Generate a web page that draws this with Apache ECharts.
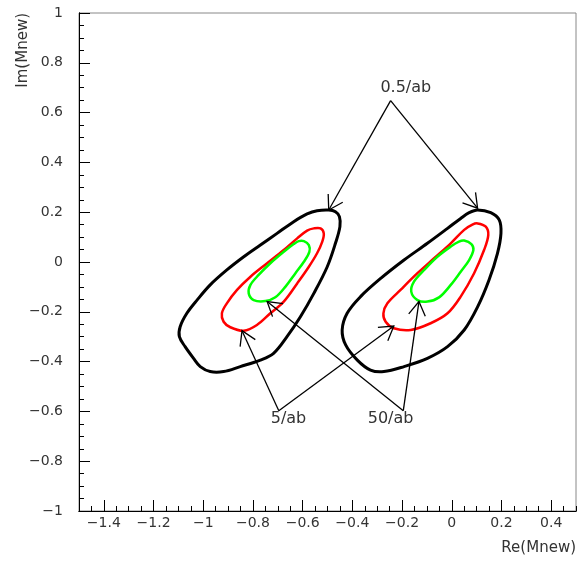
<!DOCTYPE html>
<html>
<head>
<meta charset="utf-8">
<script src="https://cdn.jsdelivr.net/npm/echarts@6/dist/echarts.min.js"></script>
<style>html,body{margin:0;padding:0;background:#fff}#c{width:579px;height:561px}</style>
</head>
<body>
<div id="c"></div>
<script>
// ---- tick labels ----
const xTickLabels = [-1.4, -1.2, -1, -0.8, -0.6, -0.4, -0.2, 0, 0.2, 0.4];
const yTickLabels = [-1, -0.8, -0.6, -0.4, -0.2, 0, 0.2, 0.4, 0.6, 0.8, 1];
const xRange = [-1.5, 0.5];
const yRange = [-1, 1];
const minorStep = 0.05;

// ---- contours (Re, Im) ----
const blackLeft = [[-0.495,0.209],[-0.542,0.206],[-0.582,0.193],[-0.636,0.162],[-0.703,0.115],[-0.770,0.068],[-0.837,0.021],[-0.905,-0.032],[-0.972,-0.092],[-1.025,-0.153],[-1.066,-0.206],[-1.093,-0.260],[-1.096,-0.300],[-1.073,-0.340],[-1.039,-0.387],[-1.012,-0.420],[-0.972,-0.440],[-0.918,-0.440],[-0.851,-0.420],[-0.770,-0.394],[-0.717,-0.367],[-0.663,-0.300],[-0.609,-0.220],[-0.555,-0.126],[-0.501,-0.019],[-0.468,0.075],[-0.450,0.142],[-0.452,0.182],[-0.468,0.202]];
const redLeft = [[-0.528,0.135],[-0.515,0.115],[-0.521,0.082],[-0.542,0.035],[-0.575,-0.019],[-0.622,-0.086],[-0.676,-0.159],[-0.730,-0.206],[-0.784,-0.253],[-0.837,-0.276],[-0.891,-0.262],[-0.918,-0.240],[-0.925,-0.206],[-0.905,-0.166],[-0.864,-0.112],[-0.810,-0.059],[-0.743,-0.005],[-0.676,0.048],[-0.622,0.095],[-0.582,0.126],[-0.555,0.135]];
const greenLeft = [[-0.595,0.084],[-0.575,0.068],[-0.573,0.041],[-0.595,0.001],[-0.629,-0.045],[-0.669,-0.099],[-0.710,-0.142],[-0.750,-0.157],[-0.797,-0.153],[-0.817,-0.126],[-0.810,-0.092],[-0.777,-0.052],[-0.730,-0.005],[-0.676,0.041],[-0.636,0.072],[-0.616,0.084]];
const blackRight = [[0.104,0.209],[0.157,0.198],[0.191,0.169],[0.198,0.115],[0.184,0.035],[0.150,-0.072],[0.104,-0.180],[0.050,-0.273],[-0.017,-0.340],[-0.098,-0.387],[-0.192,-0.420],[-0.273,-0.440],[-0.327,-0.434],[-0.380,-0.394],[-0.427,-0.333],[-0.441,-0.273],[-0.421,-0.206],[-0.367,-0.139],[-0.286,-0.066],[-0.192,0.008],[-0.098,0.075],[-0.017,0.135],[0.036,0.175],[0.070,0.198]];
const redRight = [[0.104,0.155],[0.137,0.142],[0.147,0.108],[0.130,0.048],[0.090,-0.045],[0.036,-0.139],[-0.017,-0.206],[-0.085,-0.246],[-0.165,-0.273],[-0.233,-0.266],[-0.266,-0.240],[-0.275,-0.206],[-0.259,-0.166],[-0.206,-0.112],[-0.138,-0.045],[-0.071,0.015],[-0.004,0.075],[0.050,0.129],[0.083,0.150]];
const greenRight = [[0.050,0.086],[0.079,0.072],[0.087,0.048],[0.070,0.008],[0.036,-0.039],[-0.004,-0.092],[-0.051,-0.142],[-0.098,-0.159],[-0.138,-0.153],[-0.163,-0.119],[-0.152,-0.079],[-0.111,-0.032],[-0.058,0.021],[-0.004,0.062],[0.029,0.082]];

// ---- arrows [fromRe, fromIm, toRe, toIm] ----
const arrows05 = [[-0.246,0.648,-0.495,0.209],[-0.246,0.648,0.104,0.216]];
const arrows5 = [[-0.696,-0.597,-0.844,-0.276],[-0.696,-0.597,-0.233,-0.257]];
const arrows50 = [[-0.195,-0.597,-0.743,-0.159],[-0.195,-0.597,-0.132,-0.159]];

// ---- annotation labels ----
const labelTexts = ['0.5/ab', '5/ab', '50/ab'];
const labelX = [-0.185, -0.657, -0.246];
const labelY = [0.700, -0.631, -0.631];

const FONT = "'DejaVu Sans', sans-serif";
const minorTicks = (lo, hi) => {
  const out = [];
  const n = Math.round((hi - lo) / minorStep);
  for (let i = 0; i <= n; i++) out.push(Math.round((lo + i * minorStep) * 100) / 100);
  return out;
};
const fmt = v => (Math.round(v * 10) / 10).toString().replace('-', '\u2212');

function contourSeries(pts, color, width) {
  return {
    type: 'custom',
    data: pts,
    encode: { x: 0, y: 1 },
    silent: true,
    renderItem: function (params, api) {
      if (params.dataIndex !== 0) return;
      const pp = pts.map(p => api.coord(p));
      return {
        type: 'polygon',
        shape: { points: pp, smooth: 0.35 },
        style: { fill: null, stroke: color, lineWidth: width, lineJoin: 'round' }
      };
    }
  };
}

function arrowSeries(arr) {
  return {
    type: 'custom',
    data: arr,
    encode: { x: [0, 2], y: [1, 3] },
    silent: true,
    z: 5,
    renderItem: function (params, api) {
      const p0 = api.coord([api.value(0), api.value(1)]);
      const p1 = api.coord([api.value(2), api.value(3)]);
      const ang = Math.atan2(p0[1] - p1[1], p0[0] - p1[0]);
      const L = 16, a = 0.55;
      const h1 = [p1[0] + L * Math.cos(ang + a), p1[1] + L * Math.sin(ang + a)];
      const h2 = [p1[0] + L * Math.cos(ang - a), p1[1] + L * Math.sin(ang - a)];
      return {
        type: 'group',
        children: [
          { type: 'line', shape: { x1: p0[0], y1: p0[1], x2: p1[0], y2: p1[1] }, style: { stroke: '#000', lineWidth: 1.3 } },
          { type: 'polyline', shape: { points: [h1, p1, h2] }, style: { stroke: '#000', fill: null, lineWidth: 1.3 } }
        ]
      };
    }
  };
}

const axisCommon = {
  type: 'value',
  splitLine: { show: false },
  axisLine: { show: true, onZero: false, lineStyle: { color: '#000', width: 1 } }
};

const chart = echarts.init(document.getElementById('c'), null, { renderer: 'canvas' });
chart.setOption({
  animation: false,
  backgroundColor: '#fff',
  grid: { left: 79, right: 3, top: 13, bottom: 50, show: true, borderColor: '#888', borderWidth: 1, outerBoundsMode: 'none' },
  xAxis: [
    Object.assign({}, axisCommon, {
      min: xRange[0], max: xRange[1], position: 'bottom',
      axisTick: { show: true, inside: true, length: 11, customValues: xTickLabels, lineStyle: { color: '#000' } },
      axisLabel: { customValues: xTickLabels, formatter: fmt, margin: 5, fontSize: 14, fontFamily: FONT, color: '#333' }
    }),
    Object.assign({}, axisCommon, {
      min: xRange[0], max: xRange[1], position: 'bottom',
      axisTick: { show: true, inside: true, length: 5, customValues: minorTicks(xRange[0], xRange[1]), lineStyle: { color: '#000' } },
      axisLabel: { show: false }
    })
  ],
  yAxis: [
    Object.assign({}, axisCommon, {
      min: yRange[0], max: yRange[1], position: 'left',
      axisTick: { show: true, inside: true, length: 11, customValues: yTickLabels, lineStyle: { color: '#000' } },
      axisLabel: { customValues: yTickLabels, formatter: fmt, margin: 16, fontSize: 14, fontFamily: FONT, color: '#333' }
    }),
    Object.assign({}, axisCommon, {
      min: yRange[0], max: yRange[1], position: 'left',
      axisTick: { show: true, inside: true, length: 5, customValues: minorTicks(yRange[0], yRange[1]), lineStyle: { color: '#000' } },
      axisLabel: { show: false }
    })
  ],
  graphic: [
    { type: 'text', x: 23, y: 13, rotation: Math.PI / 2,
      style: { text: 'Im(Mnew)', align: 'right', verticalAlign: 'middle', fontSize: 15, fontFamily: FONT, fill: '#333' } },
    { type: 'text', x: 576, y: 548,
      style: { text: 'Re(Mnew)', align: 'right', verticalAlign: 'middle', fontSize: 15, fontFamily: FONT, fill: '#333' } }
  ],
  series: [
    contourSeries(blackLeft, '#000', 3),
    contourSeries(redLeft, '#ff0000', 2.5),
    contourSeries(greenLeft, '#00ff00', 2.5),
    contourSeries(blackRight, '#000', 3),
    contourSeries(redRight, '#ff0000', 2.5),
    contourSeries(greenRight, '#00ff00', 2.5),
    arrowSeries(arrows05),
    arrowSeries(arrows5),
    arrowSeries(arrows50),
    {
      type: 'custom',
      data: labelX.map((x, i) => [x, labelY[i]]),
      encode: { x: 0, y: 1 },
      silent: true,
      z: 6,
      renderItem: function (params, api) {
        const p = api.coord([api.value(0), api.value(1)]);
        return {
          type: 'text', x: p[0], y: p[1],
          style: { text: labelTexts[params.dataIndex], align: 'center', verticalAlign: 'middle', fontSize: 16, fontFamily: FONT, fill: '#333' }
        };
      }
    }
  ]
});
</script>
</body>
</html>
